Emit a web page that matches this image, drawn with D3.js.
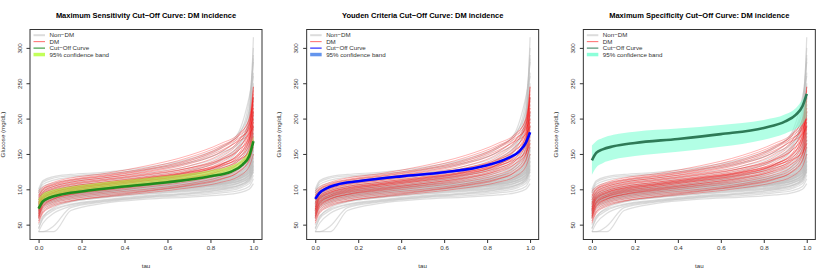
<!DOCTYPE html>
<html><head><meta charset="utf-8">
<script src="https://cdn.jsdelivr.net/npm/d3@7"></script>
<style>body{margin:0;background:#fff}svg{display:block}text{font-family:"Liberation Sans",Arial,Helvetica,sans-serif}</style>
</head><body><svg id="c" width="830" height="277"></svg>
<script>
const tauGrid = [0, 0.02, 0.07, 0.15, 0.3, 0.5, 0.7, 0.85, 0.93, 0.98, 1];
const nonDM = [
 [40,40,40,70,80,86,89,92,95,100,108],
 [40,40,48,74,82,88,91,95,98,104,115],
 [40,52,66,76,83,89,93,97,101,108,120],
 [44,58,70,78,84,90,94,99,103,111,125],
 [50,62,72,79,85,91,95,100,105,114,130],
 [55,68,77,83,88,93,97,101,105,112,125],
 [60,72,79,84,89,94,98,102,106,114,132],
 [58,74,81,86,90,95,99,103,108,116,128],
 [64,76,82,87,91,96,100,104,109,118,140],
 [66,77,83,88,92,97,101,106,111,120,135],
 [62,78,84,89,93,98,102,107,112,122,150],
 [68,79,85,90,94,99,103,108,114,124,145],
 [70,80,86,90,95,100,104,109,115,126,155],
 [67,81,87,91,96,101,105,110,116,127,142],
 [72,82,87,92,96,102,106,111,117,129,160],
 [74,82,88,92,97,103,107,112,118,130,150],
 [70,83,88,93,98,103,108,113,119,132,170],
 [75,84,89,94,98,104,108,114,120,133,155],
 [76,84,90,94,99,105,109,115,121,135,165],
 [73,85,90,95,100,105,110,116,122,137,180],
 [78,86,91,96,100,106,111,117,124,139,160],
 [77,86,92,96,101,107,112,118,125,140,175],
 [80,87,92,97,102,108,113,119,126,142,190],
 [79,88,93,98,103,108,114,120,128,144,170],
 [82,88,94,98,103,109,115,121,129,146,200],
 [81,89,94,99,104,110,116,123,131,148,180],
 [84,90,95,100,105,111,117,124,133,151,210],
 [83,91,96,101,106,112,118,126,135,154,190],
 [86,92,97,102,107,113,120,128,138,158,230],
 [85,93,98,103,108,114,121,130,141,162,205],
 [88,94,99,104,109,115,122,132,144,168,250],
 [87,95,100,105,110,116,124,135,148,175,220],
 [71,83,89,93,97,101,104,108,112,120,135],
 [65,80,86,90,94,99,102,105,109,116,128],
 [76,85,91,95,99,104,107,111,115,124,140],
 [80,88,93,97,101,106,110,115,120,130,150],
 [69,82,88,92,96,100,103,107,111,119,133],
 [78,87,92,96,100,104,108,113,117,127,145],
 [73,84,89,93,97,102,105,109,114,123,138],
 [82,89,94,98,102,107,111,117,123,135,158],
 [90,97,102,107,112,118,127,140,156,195,315],
 [92,99,104,109,114,120,130,144,162,205,290],
 [94,101,106,111,116,123,133,148,168,215,300],
 [96,104,109,113,118,126,137,153,175,225,280],
 [98,107,113,117,121,129,141,158,180,230,260],
 [100,112,118,121,124,131,143,160,178,210,245],
 [95,110,116,119,122,128,138,152,165,190,230],
 [60,80,90,96,102,110,120,135,155,190,265],
 [70,86,94,100,106,114,125,142,160,200,285],
 [45,60,74,82,89,97,106,118,132,160,210]
];
const dm = [
 [55,68,78,84,89,95,102,110,118,132,150],
 [58,70,80,86,92,98,106,115,124,140,165],
 [60,73,82,88,94,100,108,118,128,148,175],
 [62,75,84,90,96,103,111,121,132,150,190],
 [65,77,86,92,98,105,113,124,136,158,200],
 [68,79,87,93,99,106,115,127,140,165,215],
 [70,81,89,95,101,108,117,129,143,170,230],
 [72,83,90,96,102,110,119,132,147,178,245],
 [75,85,92,98,104,112,121,135,150,182,205],
 [78,87,94,100,106,114,124,138,155,175,195],
 [80,89,96,102,108,116,126,141,158,185,220],
 [82,91,98,104,110,118,128,143,160,180,210],
 [85,93,100,106,112,120,130,146,165,190,235],
 [88,95,102,108,114,122,133,150,168,195,225],
 [90,97,104,110,116,124,136,153,170,188,240],
 [92,99,106,112,118,127,140,158,172,185,200],
 [95,101,108,114,120,130,145,162,175,192,215],
 [98,103,110,116,122,133,148,165,178,198,230],
 [63,80,90,97,104,112,120,130,140,155,180],
 [70,86,95,101,107,115,123,133,145,162,185],
 [75,90,98,104,110,117,125,136,148,168,190],
 [80,93,101,107,113,121,130,142,155,172,195],
 [52,66,76,83,90,97,105,114,125,142,160],
 [85,96,104,110,116,125,138,155,168,178,188],
 [66,82,92,99,106,113,122,135,150,170,210],
 [90,100,107,113,119,128,142,160,176,200,245],
 [72,88,96,102,108,116,124,134,142,152,165],
 [60,76,86,93,100,108,116,126,136,150,170]
];
const cutTau = [0, 0.02, 0.05, 0.1, 0.2, 0.4, 0.6, 0.8, 0.9, 0.95, 0.98, 1];
const sensLine  = [72.6, 83, 88, 92.4, 97, 104, 110, 118.4, 125.4, 135, 146.6, 168];
const sensLower = [71, 81, 86.5, 91, 95.5, 102.5, 108.5, 117, 124, 133.5, 145, 166];
const sensUpper = [87, 94, 98, 101.5, 106, 113, 119, 127, 134, 143, 155, 175];
const youdenLine  = [86.4, 95, 101, 106.6, 111.3, 118.3, 124, 134, 144.4, 153.7, 165.6, 180.6];
const youdenLower = [85, 93.5, 99.5, 105, 109.8, 116.8, 122.5, 132.5, 142.8, 152, 163.8, 178.5];
const youdenUpper = [88, 96.5, 102.5, 108.2, 112.8, 119.8, 125.5, 135.5, 146, 155.4, 167.4, 182.5];
const specLine  = [141, 151.4, 156.5, 160.8, 165.6, 171.2, 178, 186.8, 196, 205.6, 217.4, 235];
const specLower = [120.5, 131, 137, 142, 147, 153, 160, 170, 179, 186, 192, 203];
const specUpper = [162, 168, 172.5, 177, 181.5, 186, 191, 198, 206, 215, 226.5, 237];
const titles = ["Maximum Sensitivity Cut\u2212Off Curve: DM incidence",
                "Youden Criteria Cut\u2212Off Curve: DM incidence",
                "Maximum Specificity Cut\u2212Off Curve: DM incidence"];
const xTicks = [0, 0.2, 0.4, 0.6, 0.8, 1.0];
const yTicks = [50, 100, 150, 200, 250, 300];
const legendLabels = ["Non\u2212DM", "DM", "Cut\u2212Off Curve", "95% confidence band"];

const panels = [
 {title: titles[0], line: sensLine, lo: sensLower, hi: sensUpper, lineCol: "#1f8c1f", bandCol: "rgba(173,255,47,0.55)", legBand: "#c2ff5a"},
 {title: titles[1], line: youdenLine, lo: youdenLower, hi: youdenUpper, lineCol: "#0000ff", bandCol: "rgba(100,149,237,0.6)", legBand: "#6495ed"},
 {title: titles[2], line: specLine, lo: specLower, hi: specUpper, lineCol: "#2e7a57", bandCol: "rgba(127,255,212,0.6)", legBand: "#8cffd9"}
];

const svg = d3.select("#c");
svg.append("rect").attr("width",830).attr("height",277).attr("fill","#fff");
const pw = 830/3;
const yDom = [29, 326];

panels.forEach((p, i) => {
  const ox = i * pw;
  const L = 30 + ox, R = 262 + ox, T = 29.5, B = 239.5;
  const x = d3.scaleLinear().domain([-0.04, 1.04]).range([L, R]);
  const y = d3.scaleLinear().domain(yDom).range([B, T]);
  const g = svg.append("g");

  const line = d3.line().x((d,j)=>x(tauGrid[j])).y(d=>y(d)).curve(d3.curveMonotoneX);
  g.append("g").selectAll("path").data(nonDM).join("path")
    .attr("d", line).attr("fill","none").attr("stroke","#bebebe").attr("stroke-opacity",0.5).attr("stroke-width",1.2);
  g.append("g").selectAll("path").data(dm).join("path")
    .attr("d", line).attr("fill","none").attr("stroke","#ff0000").attr("stroke-opacity",0.33).attr("stroke-width",0.9);

  const area = d3.area().x((d,j)=>x(cutTau[j])).y0((d,j)=>y(p.lo[j])).y1((d,j)=>y(p.hi[j])).curve(d3.curveMonotoneX);
  g.append("path").datum(p.line).attr("d", area).attr("fill", p.bandCol);
  const cl = d3.line().x((d,j)=>x(cutTau[j])).y(d=>y(d)).curve(d3.curveMonotoneX);
  g.append("path").datum(p.line).attr("d", cl).attr("fill","none").attr("stroke",p.lineCol).attr("stroke-width",2.6);

  g.append("rect").attr("x",L).attr("y",T).attr("width",R-L).attr("height",B-T)
    .attr("fill","none").attr("stroke","#333").attr("stroke-width",1);

  const xa = g.append("g").attr("transform",`translate(0,${B})`)
    .call(d3.axisBottom(x).tickValues(xTicks).tickFormat(d3.format(".1f")).tickSize(3.5).tickPadding(3));
  xa.select(".domain").remove();
  xa.selectAll("line").attr("stroke","#333");
  xa.selectAll("text").attr("font-size","6.2px").attr("fill","#333").attr("font-family",null);

  const ya = g.append("g").attr("transform",`translate(${L},0)`)
    .call(d3.axisLeft(y).tickValues(yTicks).tickSize(3.5).tickFormat(d3.format("d")));
  ya.select(".domain").remove();
  ya.selectAll("line").attr("stroke","#333");
  ya.selectAll("text").attr("font-size","6.2px").attr("fill","#333").attr("font-family",null)
    .attr("x",null).attr("dy",null)
    .attr("text-anchor","middle")
    .attr("transform", `translate(-8.5,0) rotate(-90)`);

  g.append("text").attr("x",(L+R)/2).attr("y",17.5).attr("text-anchor","middle")
    .attr("font-size","7.5px").attr("font-weight","bold").attr("fill","#000").text(p.title);
  g.append("text").attr("x",(L+R)/2).attr("y",267.5).attr("text-anchor","middle")
    .attr("font-size","6.2px").attr("fill","#333").text("tau");
  g.append("text").attr("transform",`translate(${4.8+ox},${(T+B)/2}) rotate(-90)`).attr("text-anchor","middle")
    .attr("font-size","6.2px").attr("fill","#333").text("Glucose (mg/dL)");

  const legCols = ["#dcdcdc", "#ff6a6a", p.lineCol, p.legBand];
  const legW = [2, 1, 1, 3.5];
  legendLabels.forEach((lab, k) => {
    const cy = 35.2 + k*6.45;
    g.append("line").attr("x1",L+3.5).attr("x2",L+15).attr("y1",cy).attr("y2",cy)
      .attr("stroke",legCols[k]).attr("stroke-width",legW[k]);
    g.append("text").attr("x",L+19.5).attr("y",cy+2.2).attr("font-size","6.2px").attr("fill","#333").text(lab);
  });
});
</script></body></html>
